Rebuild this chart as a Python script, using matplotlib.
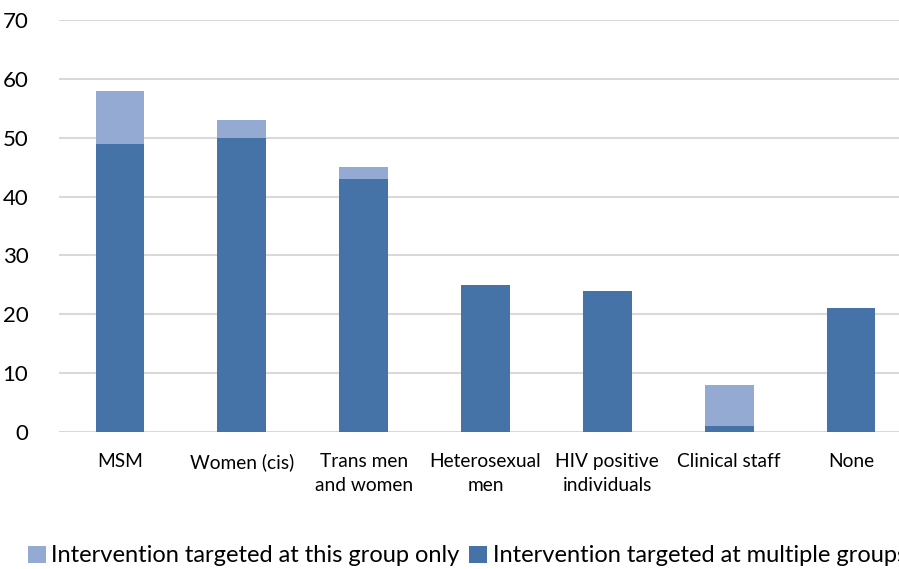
import matplotlib
matplotlib.use("Agg")
import matplotlib.pyplot as plt
import numpy as np

categories = ["MSM", "Women (cis)", "Trans men\nand women", "Heterosexual\nmen",
              "HIV positive\nindividuals", "Clinical staff", "None"]
multiple_groups = [49, 50, 43, 25, 24, 1, 21]
this_group_only = [9, 3, 2, 0, 0, 7, 0]
yticks = [0, 10, 20, 30, 40, 50, 60, 70]

plt.rcParams['font.family'] = ['Lato', 'DejaVu Sans']

dark = "#4573a7"
light = "#95aad2"

fig = plt.figure(figsize=(8.99, 5.69), dpi=100)
ax = fig.add_axes([59/899, 1 - 432/569, (912 - 59)/899, (432 - 20)/569])

x = np.arange(len(categories))
w = 0.40
ax.bar(x, multiple_groups, width=w, color=dark, zorder=3,
       label="Intervention targeted at multiple groups")
ax.bar(x, this_group_only, width=w, bottom=multiple_groups, color=light, zorder=3,
       label="Intervention targeted at this group only")

ax.set_xlim(-0.5, len(categories) - 0.5)
ax.set_ylim(0, 70)
ax.set_yticks(yticks)
ax.set_yticklabels([str(v) for v in yticks], fontsize=16)
ax.set_xticks(x)
ax.set_xticklabels(categories, fontsize=13.8, linespacing=1.5)
ax.tick_params(axis='both', length=0, colors="#000000")
ax.tick_params(axis='y', pad=22)
ax.tick_params(axis='x', pad=15)
ax.yaxis.grid(True, color="#d9d9d9", linewidth=1.5, zorder=0)
ax.set_axisbelow(True)
for s in ax.spines.values():
    s.set_visible(False)

handles, labels = ax.get_legend_handles_labels()
fig.legend([handles[1], handles[0]], [labels[1], labels[0]],
           loc="center left", bbox_to_anchor=(0.031, 0.023), frameon=False,
           fontsize=17, ncol=2, handlelength=0.75, handleheight=0.75,
           handletextpad=0.25, columnspacing=0.4, borderpad=0, borderaxespad=0)

fig.savefig("out.png", dpi=100)
